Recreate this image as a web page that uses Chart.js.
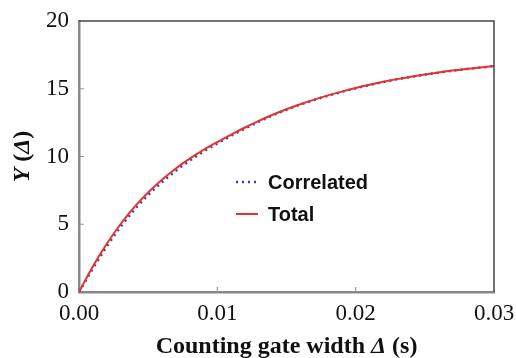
<!DOCTYPE html>
<html>
<head>
<meta charset="utf-8">
<script src="https://cdn.jsdelivr.net/npm/chart.js@4"></script>
<style>
  html, body { margin: 0; padding: 0; background: #fff; }
  #wrap { width: 516px; height: 358px; }
</style>
</head>
<body>
<div id="wrap"><canvas id="gateChart" width="516" height="358"></canvas></div>
<script>
// gate widths (s)
const gateWidths = [0, 0.001, 0.002, 0.003, 0.004, 0.005, 0.006, 0.007, 0.008, 0.009, 0.010,
  0.011, 0.012, 0.013, 0.014, 0.015, 0.016, 0.017, 0.018, 0.019, 0.020,
  0.021, 0.022, 0.023, 0.024, 0.025, 0.026, 0.027, 0.028, 0.029, 0.030];
const correlatedY = [0, 1.72, 3.34, 4.8, 6.06, 7.15, 8.1, 8.94, 9.69, 10.36, 10.96,
  11.53, 12.07, 12.57, 13.03, 13.45, 13.83, 14.17, 14.48, 14.77, 15.03,
  15.27, 15.49, 15.7, 15.88, 16.04, 16.19, 16.33, 16.45, 16.56, 16.67];
const totalY = [0, 1.88, 3.54, 5.0, 6.26, 7.34, 8.28, 9.11, 9.84, 10.49, 11.07,
  11.62, 12.14, 12.63, 13.08, 13.49, 13.86, 14.2, 14.51, 14.79, 15.05,
  15.29, 15.51, 15.71, 15.89, 16.05, 16.2, 16.34, 16.46, 16.57, 16.68];
const xTicks = [0, 0.01, 0.02, 0.03];
const yTicks = [0, 5, 10, 15, 20];

function toPoints(ys) {
  return gateWidths.map((x, i) => ({ x: x, y: ys[i] }));
}

// draws frame, inner ticks, legend and axis titles (mixed italic)
const decorations = {
  id: 'decorations',
  afterDraw(chart) {
    const c = chart.ctx;
    const a = chart.chartArea;
    const xs = chart.scales.x, ys = chart.scales.y;
    c.save();

    // top and right frame
    c.strokeStyle = '#444';
    c.lineWidth = 1.5;
    c.beginPath();
    c.moveTo(a.left, a.top);
    c.lineTo(a.right, a.top);
    c.lineTo(a.right, a.bottom);
    c.stroke();

    // inner ticks
    c.strokeStyle = '#999';
    c.lineWidth = 1.2;
    c.beginPath();
    yTicks.slice(1, -1).forEach(v => {
      const py = ys.getPixelForValue(v);
      c.moveTo(a.left, py);
      c.lineTo(a.left + 5, py);
    });
    xTicks.slice(1, -1).forEach(v => {
      const px = xs.getPixelForValue(v);
      c.moveTo(px, a.bottom);
      c.lineTo(px, a.bottom - 5);
    });
    c.stroke();

    // legend
    c.font = 'bold 20px "Liberation Sans", Arial, sans-serif';
    c.textBaseline = 'middle';
    c.fillStyle = '#111';
    const lx = 236, ly = [182, 214];
    chart.data.datasets.forEach((ds, i) => {
      c.strokeStyle = ds.borderColor;
      c.lineWidth = ds.borderWidth;
      c.setLineDash(ds.borderDash || []);
      c.beginPath();
      c.moveTo(lx, ly[i]);
      c.lineTo(lx + 22, ly[i]);
      c.stroke();
      c.setLineDash([]);
      c.fillText(ds.label, lx + 32, ly[i] + 1);
    });

    // axis titles
    const serif = '"Liberation Serif", "Times New Roman", serif';
    const drawParts = (parts, cx, cy) => {
      let w = 0;
      parts.forEach(p => { c.font = p[1] + ' 24px ' + serif; w += c.measureText(p[0]).width; });
      let x = cx - w / 2;
      c.textAlign = 'left';
      c.textBaseline = 'alphabetic';
      parts.forEach(p => {
        c.font = p[1] + ' 24px ' + serif;
        c.fillText(p[0], x, cy);
        x += c.measureText(p[0]).width;
      });
    };
    c.fillStyle = '#111';
    drawParts([['Counting gate width ', 'bold'], ['\u0394', 'italic bold'], [' (s)', 'bold']],
      (a.left + a.right) / 2, 353);
    c.save();
    c.translate(29, (a.top + a.bottom) / 2);
    c.rotate(-Math.PI / 2);
    drawParts([['Y', 'italic bold'], [' (', 'bold'], ['\u0394', 'italic bold'], [')', 'bold']], 0, 0);
    c.restore();

    c.restore();
  }
};

const ctx = document.getElementById('gateChart').getContext('2d');
const gateChart = new Chart(ctx, {
  type: 'line',
  data: {
    datasets: [{
      label: 'Correlated',
      data: toPoints(correlatedY),
      borderColor: '#3040c8',
      borderWidth: 2.5,
      borderDash: [2, 4],
      pointRadius: 0,
      cubicInterpolationMode: 'monotone',
      order: 2
    }, {
      label: 'Total',
      data: toPoints(totalY),
      borderColor: '#e8312b',
      borderWidth: 2,
      pointRadius: 0,
      cubicInterpolationMode: 'monotone',
      order: 1
    }]
  },
  options: {
    responsive: false,
    animation: false,
    layout: { padding: { top: 21, right: 22, left: 0, bottom: 0 } },
    plugins: {
      legend: { display: false },
      tooltip: { enabled: false }
    },
    scales: {
      x: {
        type: 'linear',
        min: 0,
        max: 0.03,
        afterBuildTicks: s => { s.ticks = xTicks.map(v => ({ value: v })); },
        afterFit: s => { s.height = 66; s.paddingLeft = 0; s.paddingRight = 0; },
        grid: { display: false, drawTicks: false },
        border: { color: '#888', width: 2.5 },
        ticks: {
          padding: 8,
          color: '#111',
          font: { family: '"Liberation Serif", "Times New Roman", serif', size: 23 },
          callback: v => v.toFixed(2)
        }
      },
      y: {
        min: 0,
        max: 20,
        afterBuildTicks: s => { s.ticks = yTicks.map(v => ({ value: v })); },
        afterFit: s => { s.width = 79; s.paddingTop = 0; s.paddingBottom = 0; },
        grid: { display: false, drawTicks: false },
        border: { color: '#888', width: 2.5 },
        ticks: {
          padding: 10,
          color: '#111',
          font: { family: '"Liberation Serif", "Times New Roman", serif', size: 23 }
        }
      }
    }
  },
  plugins: [decorations]
});
</script>
</body>
</html>
